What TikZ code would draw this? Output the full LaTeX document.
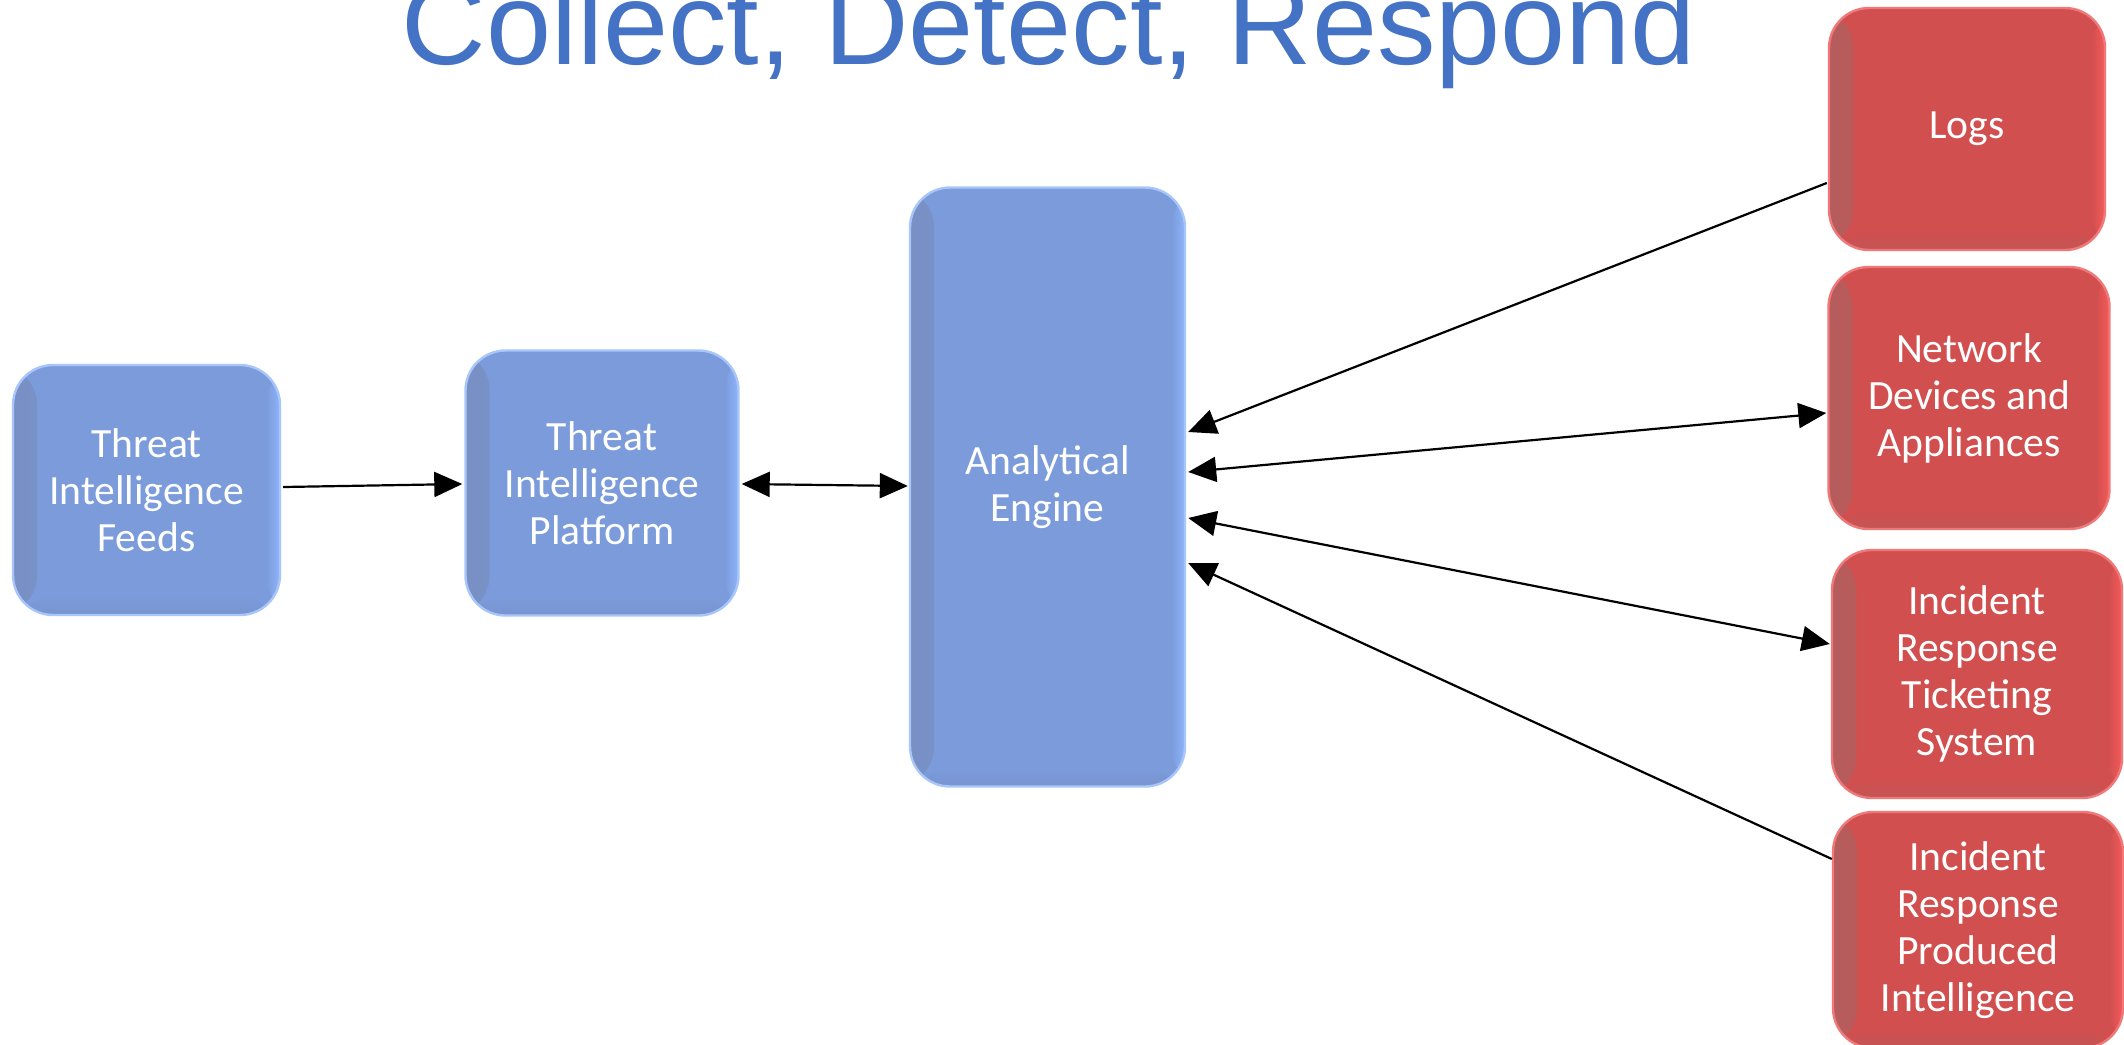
\documentclass[tikz,border=0pt]{standalone}
\usepackage{fontspec}
\setmainfont{Carlito}
\newfontfamily\titlefont{Liberation Sans}
\usetikzlibrary{arrows.meta,calc}
\definecolor{titleblue}{HTML}{4472C4}
\definecolor{bmain}{HTML}{7B9BDB}
\definecolor{bdark}{HTML}{7890C4}
\definecolor{blight}{HTML}{8EB4FA}
\definecolor{bborder}{HTML}{A8C6FA}
\definecolor{rmain}{HTML}{D14F4F}
\definecolor{rdark}{HTML}{B65C5C}
\definecolor{rlight}{HTML}{F45A5A}
\definecolor{rborder}{HTML}{F07878}
\tikzset{
  box/.style={rounded corners=20pt, text=white, align=center,
    font=\fontsize{20.8pt}{23.5pt}\selectfont, inner sep=0pt, line width=1.2pt},
  bluebox/.style={box, fill=bmain, draw=bborder,
    path picture={
      \shade[left color=bdark, right color=bmain] (path picture bounding box.south west) rectangle ([xshift=12pt]path picture bounding box.north west);
      \shade[left color=bmain, right color=blight] ([xshift=-7pt]path picture bounding box.south east) rectangle (path picture bounding box.north east);
      \shade[bottom color=bdark, top color=bmain, opacity=0.5] (path picture bounding box.south west) rectangle ([yshift=9pt]path picture bounding box.south east);
    }},
  redbox/.style={box, fill=rmain, draw=rborder,
    path picture={
      \shade[left color=rdark, right color=rmain] (path picture bounding box.south west) rectangle ([xshift=12pt]path picture bounding box.north west);
      \shade[left color=rmain, right color=rlight] ([xshift=-7pt]path picture bounding box.south east) rectangle (path picture bounding box.north east);
      \shade[bottom color=rdark, top color=rmain, opacity=0.5] (path picture bounding box.south west) rectangle ([yshift=9pt]path picture bounding box.south east);
    }},
  arr/.style={line width=1.1pt, -{Triangle[length=14pt,width=12.5pt]}},
  darr/.style={line width=1.1pt, {Triangle[length=14pt,width=12.5pt]}-{Triangle[length=14pt,width=12.5pt]}},
}
\begin{document}
\begin{tikzpicture}[x=0.5pt,y=-0.5pt]
\useasboundingbox (0,0) rectangle (2124,1044);
\node[font=\titlefont\fontsize{58.5pt}{62pt}\selectfont, text=titleblue, anchor=base, inner sep=0pt] (title) at (1049,64) {Collect, Detect, Respond};

\node[bluebox, minimum width=133.5pt, minimum height=125pt] (feeds) at (146.5,490) {Threat\\Intelligence\\Feeds};
\node[bluebox, minimum width=136.5pt, minimum height=132.5pt] (platform) at (602,483) {Threat\\Intelligence\\Platform};
\node[bluebox, minimum width=137.5pt, minimum height=299.5pt] (engine) at (1047.5,487) {Analytical\\Engine};

\node[redbox, minimum width=138pt, minimum height=121pt] (logs) at (1967,129) {Logs};
\node[redbox, minimum width=140.5pt, minimum height=131pt] (network) at (1969,398) {Network\\Devices and\\Appliances};
\node[redbox, minimum width=145pt, minimum height=124pt] (ticket) at (1977,674) {Incident\\Response\\Ticketing\\System};
\node[redbox, minimum width=145pt, minimum height=118pt] (produced) at (1978,930) {Incident\\Response\\Produced\\Intelligence};

\draw[arr] ($(feeds.east)+(2,-3)$) -- ($(platform.west)+(-2,1)$);
\draw[darr] ($(platform.east)+(2,1)$) -- ($(engine.west)+(-1,-1)$);

\draw[arr] ($(logs.west)+(-1,54)$) -- ($(engine.east)+(2,-55)$);
\draw[darr] ($(engine.east)+(2,-15)$) -- ($(network.west)+(-1,15)$);
\draw[darr] ($(engine.east)+(2,31)$) -- ($(ticket.west)+(-1,-30)$);
\draw[arr] ($(produced.west)+(0,-71)$) -- ($(engine.east)+(2,76)$);
\end{tikzpicture}
\end{document}
